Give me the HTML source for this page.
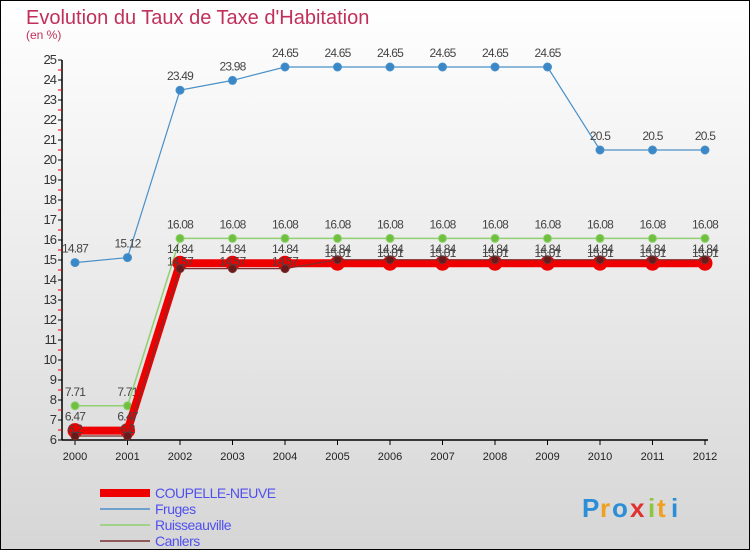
<!DOCTYPE html>
<html><head><meta charset="utf-8"><style>
body{margin:0;width:750px;height:550px;overflow:hidden;font-family:"Liberation Sans",sans-serif}
</style></head><body>
<svg id="c" width="750" height="550" xmlns="http://www.w3.org/2000/svg">
<defs><linearGradient id="bg" x1="0" y1="0" x2="0" y2="1"><stop offset="0" stop-color="#ffffff"/><stop offset="1" stop-color="#d6d6d6"/></linearGradient></defs>
<rect x="0.5" y="0.5" width="749" height="549" fill="url(#bg)" stroke="#000"/>
<text x="26" y="24" font-size="20" fill="#c0305a">Evolution du Taux de Taxe d'Habitation</text>
<text x="26" y="39" font-size="12" fill="#c0305a">(en %)</text>
<g id="axes"></g><g id="series"></g><g id="legend"></g>
<g font-size="26" font-weight="bold">
<text x="582" y="517" fill="#2b8ed6">P</text><text x="600" y="517" fill="#f0a020">r</text><text x="612" y="517" fill="#2b8ed6">o</text><text x="630" y="517" fill="#e03030">x</text><text x="648" y="517" fill="#8cc63f">i</text><text x="657" y="517" fill="#f0a020">t</text><text x="671" y="517" fill="#2b8ed6">i</text>
</g>
</svg>
<script>
const years=[2000,2001,2002,2003,2004,2005,2006,2007,2008,2009,2010,2011,2012];
const yTicks=[6,7,8,9,10,11,12,13,14,15,16,17,18,19,20,21,22,23,24,25];
const fruges=[14.87,15.12,23.49,23.98,24.65,24.65,24.65,24.65,24.65,24.65,20.5,20.5,20.5];
const ruisseauville=[7.71,7.71,16.08,16.08,16.08,16.08,16.08,16.08,16.08,16.08,16.08,16.08,16.08];
const canlers=[6.2,6.2,14.57,14.57,14.57,15.01,15.01,15.01,15.01,15.01,15.01,15.01,15.01];
const coupelle=[6.47,6.47,14.84,14.84,14.84,14.84,14.84,14.84,14.84,14.84,14.84,14.84,14.84];
const NS="http://www.w3.org/2000/svg";
const X=i=>75+i*52.5, Y=v=>440-(v-6)*20;
function mk(p,t,a){const e=document.createElementNS(NS,t);for(const k in a)e.setAttribute(k,a[k]);p.appendChild(e);return e;}
const ax=document.getElementById('axes');
mk(ax,'line',{x1:62,y1:60,x2:62,y2:440,stroke:'#000','stroke-width':1.5});
mk(ax,'line',{x1:62,y1:440,x2:708,y2:440,stroke:'#000','stroke-width':1.5});
yTicks.forEach(v=>{
 mk(ax,'line',{x1:58,y1:Y(v),x2:62,y2:Y(v),stroke:'#000'});
 if(v<25)mk(ax,'line',{x1:58,y1:Y(v+0.5),x2:62,y2:Y(v+0.5),stroke:'#e00'});
 const t=mk(ax,'text',{x:56,y:Y(v)+4,'font-size':13,'text-anchor':'end',fill:'#333','letter-spacing':'-1'});t.textContent=v;
 
 
});
years.forEach((yr,i)=>{
 mk(ax,'line',{x1:X(i),y1:440,x2:X(i),y2:445,stroke:'#000'});
 const t=mk(ax,'text',{x:X(i),y:460,'font-size':11,'text-anchor':'middle',fill:'#222'});t.textContent=yr;
 
 
});
const sg=document.getElementById('series');
function series(vals,color,w,r,name,dark,dy){
 const g=mk(sg,'g',{});
 
 
 mk(g,'polyline',{points:vals.map((v,i)=>X(i)+','+Y(v)).join(' '),fill:'none',stroke:color,'stroke-width':w});
 vals.forEach((v,i)=>{
  const c=mk(g,'circle',{cx:X(i),cy:Y(v),r:r,fill:dark,stroke:color,'stroke-width':1});
  
  
  const t=mk(g,'text',{x:X(i),y:Y(v)+dy,'font-size':12,'text-anchor':'middle',fill:'#444','letter-spacing':'-0.8'});t.textContent=v;
  
  
 });
}
series(fruges,'#4a90c8',1.2,4,'series-fruges','#3a88c8',-10);
series(ruisseauville,'#90d070',1.5,4,'series-ruisseauville','#70c040',-10);
series(coupelle,'#ee0000',8,7,'series-coupelle-neuve','#ee0000',-10);
series(canlers,'#7a3030',1.2,4,'series-canlers','#6a1a1a',-3);
const lg=document.getElementById('legend');
[['COUPELLE-NEUVE','#ee0000',8],['Fruges','#4a90c8',1.5],['Ruisseauville','#90d070',1.5],['Canlers','#7a3030',1.5]].forEach((d,i)=>{
 const g=mk(lg,'g',{});
 
 
 const y=493+i*16;
 mk(g,'line',{x1:100,y1:y,x2:150,y2:y,stroke:d[1],'stroke-width':d[2]});
 const t=mk(g,'text',{x:155,y:y+5,'font-size':14,fill:'#5050ee','letter-spacing':'-0.5'});t.textContent=d[0];
});
</script>
</body></html>
